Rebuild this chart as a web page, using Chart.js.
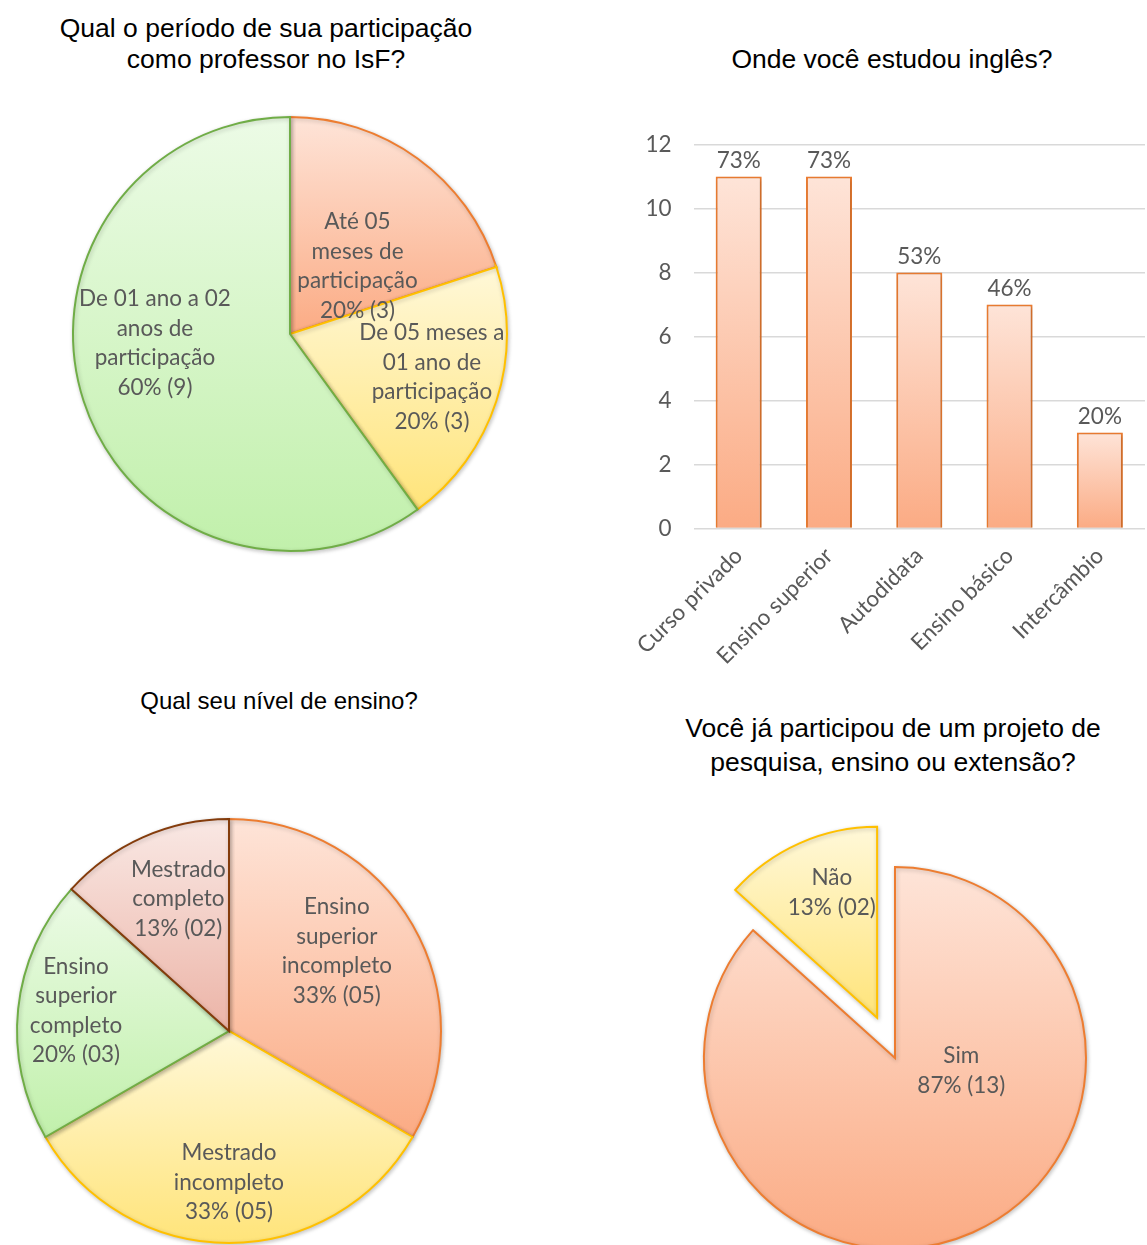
<!DOCTYPE html>
<html lang="pt-BR">
<head>
<meta charset="utf-8">
<title>Professores do IsF</title>
<script src="https://cdn.jsdelivr.net/npm/chart.js@4.4.1/dist/chart.umd.min.js"></script>
<style>
  html, body { margin: 0; padding: 0; background: #fff; overflow: hidden; }
  body { position: relative; width: 1147px; height: 1245px; }
  .box { position: absolute; }
  .titulo {
    position: absolute; width: 600px; text-align: center;
    font: 26.5px 'Liberation Sans', Arial, sans-serif; color: #000;
  }
</style>
</head>
<body>

<div class="titulo" style="left:-34px; top:13px; line-height:31px">Qual o período de sua participação<br>como professor no IsF?</div>
<div class="titulo" style="left:592px; top:44px; line-height:31px">Onde você estudou inglês?</div>
<div class="titulo" style="left:-21px; top:685px; line-height:31px; font-size:24px">Qual seu nível de ensino?</div>
<div class="titulo" style="left:593px; top:711px; line-height:34px">Você já participou de um projeto de<br>pesquisa, ensino ou extensão?</div>

<div class="box" style="left:60px; top:104px; width:460px; height:460px"><canvas id="periodo"></canvas></div>
<div class="box" style="left:620px; top:109px; width:530px; height:560px"><canvas id="estudo"></canvas></div>
<div class="box" style="left:9px; top:811px; width:440px; height:440px"><canvas id="nivel"></canvas></div>
<div class="box" style="left:675px; top:808px; width:440px; height:500px"><canvas id="projeto"></canvas></div>

<script>
// Qual o período de sua participação como professor no IsF?
const periodoLabels = [['Até 05', 'meses de', 'participação'], ['De 05 meses a', '01 ano de', 'participação'], ['De 01 ano a 02', 'anos de', 'participação']];
const periodoValues = [3, 3, 9];

// Onde você estudou inglês? (várias respostas por professor)
const estudoLabels = ['Curso privado', 'Ensino superior', 'Autodidata', 'Ensino básico', 'Intercâmbio'];
const estudoValues = [11, 11, 8, 7, 3];
const estudoRespondentes = 15;
const estudoTicks = [0, 2, 4, 6, 8, 10, 12];

// Qual seu nível de ensino?
const nivelLabels = [['Ensino', 'superior', 'incompleto'], ['Mestrado', 'incompleto'], ['Ensino', 'superior', 'completo'], ['Mestrado', 'completo']];
const nivelValues = [5, 5, 3, 2];

// Você já participou de um projeto de pesquisa, ensino ou extensão?
const projetoLabels = [['Sim'], ['Não']];
const projetoValues = [13, 2];

const TEXTO = '#595959';
const FONTE = "'Lato', 'Open Sans', sans-serif";
const TAM = 22.5;
const LARANJA = { light: '#fee4d8', dark: '#fbab84', line: '#ed7d31' };
const AMARELO = { light: '#fff8d8', dark: '#ffe47a', line: '#ffc000' };
const VERDE   = { light: '#ecfbe6', dark: '#c1f0ab', line: '#70ad47' };
const MARROM  = { light: '#f9e8e4', dark: '#ecb4a7', line: '#843c0c' };

// vertical gradient spanning each slice's own bounding box
function sliceGradient(R, palette, explode = []) {
  return ctx => {
    const { chart, dataIndex } = ctx;
    const area = chart.chartArea;
    const pal = palette[dataIndex];
    if (!area) return pal.light;
    const data = ctx.dataset.data;
    const total = data.reduce((s, v) => s + v, 0);
    const before = data.slice(0, dataIndex).reduce((s, v) => s + v, 0);
    const a0 = -Math.PI / 2 + before / total * 2 * Math.PI;
    const a1 = a0 + data[dataIndex] / total * 2 * Math.PI;
    const shift = explode[dataIndex] || 0;
    const cy = (area.top + area.bottom) / 2 + Math.sin((a0 + a1) / 2) * shift;
    let top = cy, bottom = cy;
    for (let k = 0; k <= 60; k++) {
      const y = cy + Math.sin(a0 + (a1 - a0) * k / 60) * R;
      top = Math.min(top, y);
      bottom = Math.max(bottom, y);
    }
    const g = chart.ctx.createLinearGradient(0, top, 0, bottom);
    g.addColorStop(0, pal.light);
    g.addColorStop(1, pal.dark);
    return g;
  };
}

function barGradient(pal) {
  return ctx => {
    const { chart, parsed } = ctx;
    if (!chart.chartArea || !parsed) return pal.light;
    const y = chart.scales.y;
    const g = chart.ctx.createLinearGradient(0, y.getPixelForValue(parsed.y), 0, y.getPixelForValue(0));
    g.addColorStop(0, pal.light);
    g.addColorStop(1, pal.dark);
    return g;
  };
}

// soft drop shadow under the marks
const sombra = {
  id: 'sombra',
  beforeDatasetsDraw(chart) {
    const c = chart.ctx;
    c.save();
    c.shadowColor = 'rgba(0,0,0,0.22)';
    c.shadowBlur = 4;
    c.shadowOffsetX = 1;
    c.shadowOffsetY = 1.5;
  },
  afterDatasetsDraw(chart) { chart.ctx.restore(); }
};

// pulls chosen slices away from the centre, keeping their radius
const explode = {
  id: 'explode',
  afterDatasetsUpdate(chart, args, opts) {
    const dist = opts.dist || [];
    chart.getDatasetMeta(0).data.forEach((arc, i) => {
      const d = dist[i] || 0;
      if (!d) return;
      const mid = (arc.startAngle + arc.endAngle) / 2;
      arc.x += Math.cos(mid) * d;
      arc.y += Math.sin(mid) * d;
    });
  }
};

// category name + "pct% (n)" inside each slice; at = [degrees from 12 o'clock, fraction of radius]
const sliceLabels = {
  id: 'sliceLabels',
  afterDatasetsDraw(chart, args, opts) {
    const { ctx } = chart;
    const data = chart.data.datasets[0].data;
    const total = data.reduce((s, v) => s + v, 0);
    ctx.save();
    ctx.font = `${opts.size}px ${FONTE}`;
    ctx.fillStyle = TEXTO;
    ctx.textAlign = 'center';
    ctx.textBaseline = 'middle';
    chart.getDatasetMeta(0).data.forEach((arc, i) => {
      const [deg, frac] = opts.at[i];
      const a = deg * Math.PI / 180, r = arc.outerRadius * frac;
      const x = arc.x + Math.sin(a) * r, y = arc.y - Math.cos(a) * r;
      const n = opts.pad ? String(data[i]).padStart(2, '0') : String(data[i]);
      const lines = [...chart.data.labels[i], `${Math.round(data[i] / total * 100)}% (${n})`];
      lines.forEach((t, k) => ctx.fillText(t, x, y + (k - (lines.length - 1) / 2) * opts.lineHeight));
    });
    ctx.restore();
  }
};

const barLabels = {
  id: 'barLabels',
  afterDatasetsDraw(chart, args, opts) {
    const { ctx } = chart;
    const data = chart.data.datasets[0].data;
    ctx.save();
    ctx.font = `${opts.size}px ${FONTE}`;
    ctx.fillStyle = TEXTO;
    ctx.textAlign = 'center';
    ctx.textBaseline = 'middle';
    chart.getDatasetMeta(0).data.forEach((bar, i) => {
      ctx.fillText(Math.floor(data[i] / opts.total * 100) + '%', bar.x, bar.y - opts.gap);
    });
    ctx.restore();
  }
};

function pie(id, labels, values, palette, R, labelOpts, dist = []) {
  return new Chart(document.getElementById(id), {
    type: 'pie',
    data: {
      labels,
      datasets: [{
        data: values,
        backgroundColor: sliceGradient(R, palette, dist),
        borderColor: palette.map(p => p.line),
        borderWidth: 2,
        borderJoinStyle: 'miter',
      }],
    },
    options: {
      responsive: true,
      maintainAspectRatio: false,
      animation: false,
      events: [],
      radius: R,
      layout: { padding: 0 },
      plugins: {
        legend: { display: false },
        tooltip: { enabled: false },
        explode: { dist },
        sliceLabels: labelOpts,
      },
    },
    plugins: [sombra, explode, sliceLabels],
  });
}

pie('periodo', periodoLabels, periodoValues, [LARANJA, AMARELO, VERDE], 217,
  { size: TAM, lineHeight: 29.5, pad: false, at: [[45, 0.44], [107, 0.684], [266, 0.624]] });

pie('nivel', nivelLabels, nivelValues, [LARANJA, AMARELO, VERDE, MARROM], 212,
  { size: TAM, lineHeight: 29.5, pad: true, at: [[53.6, 0.632], [180, 0.715], [277.6, 0.728], [339, 0.667]] });

pie('projeto', projetoLabels, projetoValues, [LARANJA, AMARELO], 191,
  { size: TAM, lineHeight: 30, pad: true, at: [[101, 0.354], [340, 0.694]] }, [0, 44]);

new Chart(document.getElementById('estudo'), {
  type: 'bar',
  data: {
    labels: estudoLabels,
    datasets: [{
      data: estudoValues,
      backgroundColor: barGradient(LARANJA),
      borderColor: LARANJA.line,
      borderWidth: 2,
      barPercentage: 0.51,
      categoryPercentage: 1,
    }],
  },
  options: {
    responsive: true,
    maintainAspectRatio: false,
    animation: false,
    events: [],
    layout: { padding: { top: 0, right: 5, left: 0, bottom: 0 } },
    plugins: {
      legend: { display: false },
      tooltip: { enabled: false },
      barLabels: { size: TAM, gap: 16, total: estudoRespondentes },
    },
    scales: {
      y: {
        min: estudoTicks[0],
        max: estudoTicks[estudoTicks.length - 1],
        ticks: { stepSize: estudoTicks[1] - estudoTicks[0], color: TEXTO, padding: 22, font: { family: FONTE, size: TAM } },
        grid: { color: '#d9d9d9', lineWidth: 1.5, drawTicks: false },
        border: { display: false },
        afterFit: s => { s.width = 72; },
      },
      x: {
        ticks: { color: TEXTO, minRotation: 45, maxRotation: 45, padding: 14, font: { family: FONTE, size: TAM } },
        grid: { display: false, drawTicks: false },
        border: { display: false },
        afterFit: s => { s.height = 140.5; },
      },
    },
  },
  plugins: [sombra, barLabels],
});
</script>
</body>
</html>
